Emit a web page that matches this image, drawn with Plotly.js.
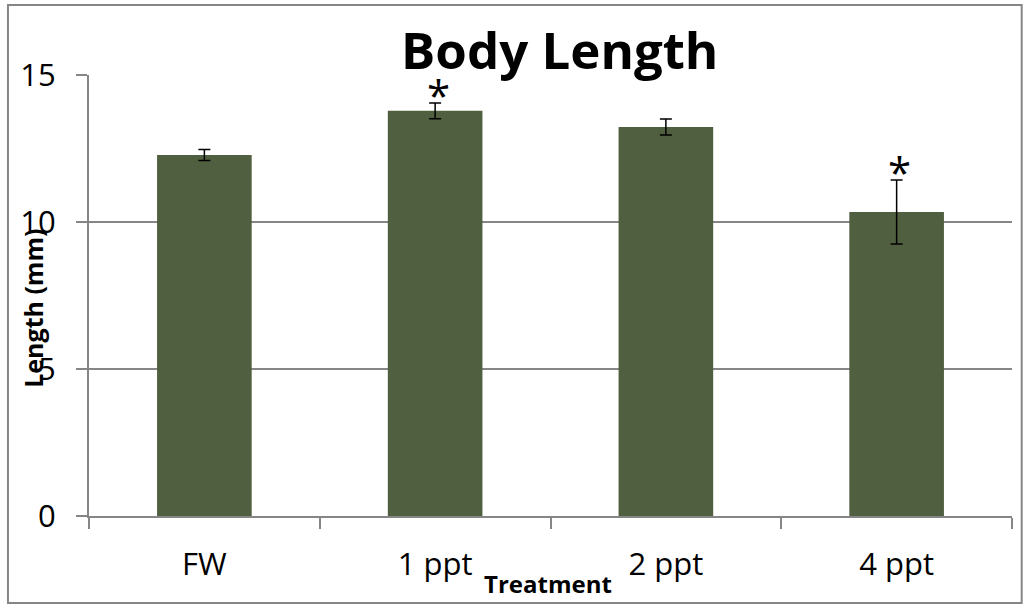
<!DOCTYPE html>
<html><head><meta charset="utf-8">
<script src="https://cdn.plot.ly/plotly-3.0.1.min.js"></script>
<style>html,body{margin:0;padding:0;background:#fff}#chart{width:1023px;height:605px}</style>
</head><body><div id="chart"></div>
<script>
const categories = ["FW", "1 ppt", "2 ppt", "4 ppt"];
const lengths = [12.28, 13.78, 13.23, 10.34];
const errors = [0.19, 0.27, 0.27, 1.09];
const significant = [false, true, false, true];
const yTicks = [0, 5, 10, 15];

const FONT = "Open Sans, Liberation Sans, sans-serif";
const trace = {
  type: "bar", x: categories, y: lengths,
  marker: {color: "#4f5f3f", line: {width: 0}},
  error_y: {type: "data", array: errors, visible: true, color: "#000", thickness: 1.5, width: 6},
  hoverinfo: "skip"
};
const annotations = [];
categories.forEach((c, i) => {
  if (significant[i]) annotations.push({
    x: c, y: lengths[i] + errors[i], xref: "x", yref: "y", text: "*",
    showarrow: false, yanchor: "bottom", yshift: -22, xshift: 3,
    font: {family: FONT, size: 42, color: "#000"}
  });
});
annotations.push({
  text: "<b>Length (mm)</b>", xref: "paper", yref: "paper", x: -0.0607, y: 0.472,
  xanchor: "center", yanchor: "middle",
  textangle: -90, showarrow: false, font: {family: FONT, size: 25, color: "#000"}
});
annotations.push({
  text: "<b>Treatment</b>", xref: "paper", yref: "paper", x: 0.497, y: -0.152,
  xanchor: "center", yanchor: "middle",
  showarrow: false, font: {family: FONT, size: 24, color: "#000"}
});
const layout = {
  width: 1023, height: 605,
  margin: {l: 89, r: 11, t: 75, b: 89},
  paper_bgcolor: "#fff", plot_bgcolor: "#fff",
  showlegend: false, bargap: 0.59,
  title: {text: "<b>Body Length</b>", x: 0.51, xref: "paper", xanchor: "center", y: 0.915, yanchor: "middle",
          font: {family: FONT, size: 51, color: "#000"}},
  xaxis: {type: "category", showgrid: false, showline: true, linecolor: "#868686", linewidth: 2,
          ticks: "outside", tickson: "boundaries", ticklen: 11, tickcolor: "#868686", tickwidth: 2,
          ticklabelstandoff: 20,
          tickfont: {family: FONT, size: 31, color: "#000"}, zeroline: false},
  yaxis: {range: [0, 15], tickvals: yTicks, ticktext: yTicks.map(String),
          showgrid: true, gridcolor: "#868686", gridwidth: 2, showline: true, linecolor: "#868686", linewidth: 2,
          ticks: "outside", ticklen: 11, tickcolor: "#868686", tickwidth: 2, ticklabelstandoff: 14,
          zeroline: false, tickfont: {family: FONT, size: 31, color: "#000"}},
  annotations: annotations,
  shapes: [{type: "rect", xref: "paper", yref: "paper", x0: -0.0878, x1: 1.0105, y0: -0.197, y1: 1.159,
            line: {color: "#868686", width: 2}, fillcolor: "rgba(0,0,0,0)", layer: "below"}]
};
Plotly.newPlot("chart", [trace], layout, {displayModeBar: false, staticPlot: true});
</script></body></html>
